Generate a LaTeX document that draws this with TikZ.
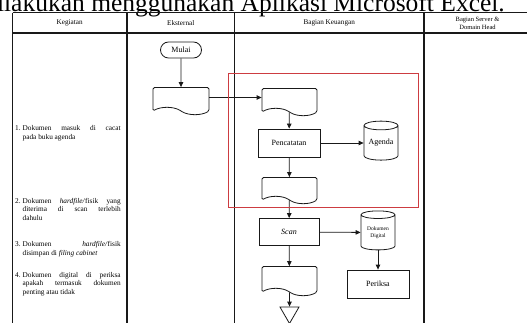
\documentclass[tikz,border=0pt]{standalone}
\usepackage{fontspec}
\setmainfont{Liberation Serif}
\usetikzlibrary{arrows.meta,positioning,shapes.geometric,shapes.symbols,shapes.misc}
\definecolor{ink}{RGB}{25,25,25}
\definecolor{tanda}{RGB}{205,60,65}
\tikzset{
  garis/.style={draw=ink,line width=1.1pt},
  proses/.style={rectangle,draw=ink,line width=0.8pt,minimum width=62pt,minimum height=28pt,
    font=\fontsize{8}{9}\selectfont,inner sep=0pt},
  dok/.style={tape,tape bend top=none,tape bend bottom=out and in,tape bend height=7pt,
    rounded corners=1.5pt,draw=ink,line width=0.8pt,minimum width=55pt,minimum height=27pt,
    inner sep=0pt},
  arsip/.style={cylinder,shape border rotate=90,aspect=0.35,draw=ink,line width=0.8pt,
    minimum width=34pt,minimum height=39pt,inner sep=0pt,align=center},
  mulaibox/.style={rounded rectangle,draw=ink,line width=0.8pt,minimum width=41pt,
    minimum height=16pt,inner sep=0pt,font=\fontsize{8}{9}\selectfont},
  ujung/.style={regular polygon,regular polygon sides=3,shape border rotate=180,
    draw=ink,line width=0.8pt,minimum size=22pt,inner sep=0pt},
  arr/.style={-{Triangle[length=5pt,width=4.5pt]},line width=0.8pt,draw=ink},
  kepala/.style={font=\fontsize{7.2}{8.5}\selectfont,align=center,inner sep=0pt},
  ket/.style={font=\fontsize{7.3}{8.5}\selectfont,align=left,anchor=base west,inner sep=0pt},
}
% baris rata kiri-kanan dan nomor butir
\newcommand{\rata}[1]{\makebox[98pt][s]{#1}}
\newcommand{\nomor}[1]{\makebox[7.5pt][l]{#1}}
\newcommand{\sisip}{\hspace*{7.5pt}}

\begin{document}
\begin{tikzpicture}[x=1pt,y=-1pt]
\useasboundingbox (0,0) rectangle (527,323);
% potongan kalimat di atas tabel
\node[font=\fontsize{25.5}{26}\selectfont,anchor=base east,inner sep=0pt] (judul) at (505,12)
  {dilakukan menggunakan Aplikasi Microsoft Excel.};

% tabel
\draw[garis] (12.5,12.7) -- (540,12.7);
\draw[garis] (12.5,33) -- (540,33);
\foreach \kx in {12.5,127,234.5,424,531}
  \draw[garis] (\kx,12.7) -- (\kx,330);
\node[kepala] (h1) at (69.7,23) {Kegiatan};
\node[kepala] (h2) at (180.7,23) {Eksternal};
\node[kepala] (h3) at (329.2,23) {Bagian Keuangan};
\node[kepala,font=\fontsize{6.5}{8}\selectfont] (h4) at (477.5,23) {Bagian Server \&\\Domain Head};

% keterangan kegiatan (jangkar pada baris terakhir)
\node[ket] (k1) at (15,139.5)
  {\nomor{1.}\rata{Dokumen masuk di cacat}\\
   \sisip pada buku agenda};
\node[ket] (k2) at (15,220)
  {\nomor{2.}\rata{Dokumen \textit{hardfile/}fisik yang}\\
   \sisip\rata{diterima di scan terlebih}\\
   \sisip dahulu};
\node[ket] (k3) at (15,255)
  {\nomor{3.}\rata{Dokumen \textit{hardfile/}fisik}\\
   \sisip disimpan di \textit{filing cabinet}};
\node[ket] (k4) at (15,294)
  {\nomor{4.}\rata{Dokumen digital di periksa}\\
   \sisip\rata{apakah termasuk dokumen}\\
   \sisip penting atau tidak};

% alur dokumen
\node[mulaibox] (mulai) at (181,50) {Mulai};
\node[dok,minimum width=56pt] (docA) at (181,97.5) {};
\node[dok] (docB) at (289.5,98.5) {};
\node[proses] (catat) at (289,143) {Pencatatan};
\node[arsip,font=\fontsize{8}{9}\selectfont] (agenda) at (381,143) {Agenda};
\node[dok,minimum height=26pt] (docC) at (289.5,187) {};
\node[proses,minimum width=60pt,minimum height=27pt] (scan) at (289,232) {\textit{Scan}};
\node[arsip,font=\fontsize{5.5}{6.5}\selectfont] (digital) at (378,232.5) {Dokumen\\Digital};
\node[proses] (periksa) at (378,284) {Periksa};
\node[dok,minimum height=29pt] (docD) at (289.5,277.5) {};
\node[ujung] (akhir) at (289.5,312.5) {};

\draw[arr] (mulai) -- (docA);
\draw[arr] (docA.east) -- (docA.east -| docB.west);
\draw[arr] (docB) -- (catat);
\draw[arr] (catat) -- (agenda);
\draw[arr] (catat) -- (docC);
\draw[arr] (docC) -- (scan);
\draw[arr] (scan) -- (digital);
\draw[arr] (digital) -- (periksa);
\draw[arr] (scan) -- (docD);
\draw[arr] (docD) -- (akhir);

% bagian pencatatan yang ditandai
\draw[tanda,line width=1pt] (228,74) rectangle (418,207);
\end{tikzpicture}
\end{document}
